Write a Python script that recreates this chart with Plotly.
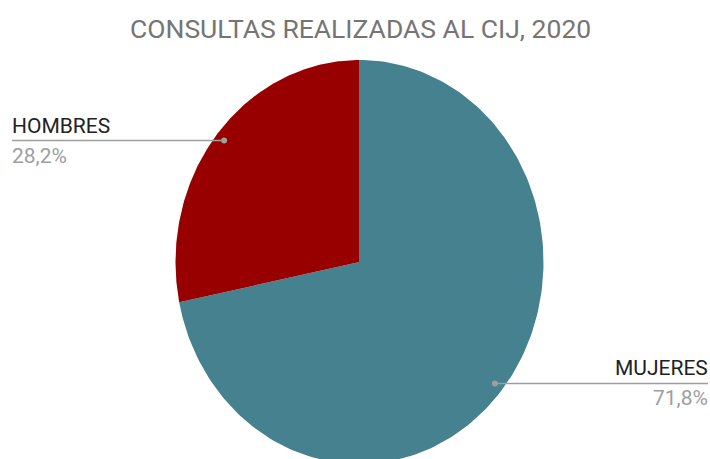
import numpy as np
import plotly.graph_objects as go

# ---- data ----
categories = ["MUJERES", "HOMBRES"]
values = [71.8, 28.2]
pct_labels = ["71,8%", "28,2%"]
colors = ["#45818e", "#980000"]
title_text = "CONSULTAS REALIZADAS AL CIJ, 2020"

W, H = 710, 459
CX, CY = 359.5, 262.0      # pie centre in pixels
RX, RY = 184.0, 202.0      # pixel radii (stretched pie)
x_range = [-CX / RX, (W - CX) / RX]
y_range = [-(H - CY) / RY, CY / RY]


def px_to_x(px):
    return x_range[0] + px / W * (x_range[1] - x_range[0])


fig = go.Figure()

total = sum(values)
start = 90.0  # degrees, clockwise from top
mids = []
for cat, v, c in zip(categories, values, colors):
    sweep = v / total * 360.0
    angs = np.radians(np.linspace(start, start - sweep, 200))
    xs = np.concatenate([[0], np.cos(angs), [0]])
    ys = np.concatenate([[0], np.sin(angs), [0]])
    fig.add_trace(go.Scatter(x=xs, y=ys, fill="toself", fillcolor=c,
                             mode="lines", line=dict(width=0, color=c),
                             hoverinfo="skip", showlegend=False))
    mids.append(np.radians(start - sweep / 2))
    start -= sweep

# leader lines + dots
label_specs = {
    "MUJERES": dict(edge_px=708, side="right"),
    "HOMBRES": dict(edge_px=12, side="left"),
}
annotations = []
for cat, pct, m in zip(categories, pct_labels, mids):
    dx, dy = 0.95 * np.cos(m), 0.95 * np.sin(m)
    spec = label_specs[cat]
    ex = px_to_x(spec["edge_px"])
    fig.add_trace(go.Scatter(x=[dx, ex], y=[dy, dy], mode="lines",
                             line=dict(color="#9e9e9e", width=1.5),
                             hoverinfo="skip", showlegend=False))
    fig.add_trace(go.Scatter(x=[dx], y=[dy], mode="markers",
                             marker=dict(color="#9e9e9e", size=6),
                             hoverinfo="skip", showlegend=False))
    anchor = "right" if spec["side"] == "right" else "left"
    xs_shift = 2 if anchor == "right" else -2
    annotations.append(dict(x=ex, y=dy, xref="x", yref="y", text=cat,
                            showarrow=False, xanchor=anchor, yanchor="bottom",
                            xshift=xs_shift, yshift=1,
                            font=dict(family="Roboto", size=21, color="#222222")))
    annotations.append(dict(x=ex, y=dy, xref="x", yref="y", text=pct,
                            showarrow=False, xanchor=anchor, yanchor="top",
                            xshift=xs_shift, yshift=-1,
                            font=dict(family="Roboto", size=21, color="#9e9e9e")))

annotations.append(dict(x=360 / W, y=1 - 28 / H, xref="paper", yref="paper",
                        text=title_text, showarrow=False, xanchor="center", yanchor="middle",
                        font=dict(family="Roboto", size=26.5, color="#757575")))

fig.update_layout(
    width=W, height=H,
    margin=dict(l=0, r=0, t=0, b=0),
    paper_bgcolor="white", plot_bgcolor="white",
    xaxis=dict(range=x_range, visible=False, fixedrange=True),
    yaxis=dict(range=y_range, visible=False, fixedrange=True),
    annotations=annotations,
    showlegend=False,
)

fig.write_html("out.html", config={"displayModeBar": False},
               post_script="document.body.style.margin='0';document.body.style.overflow='hidden';")
